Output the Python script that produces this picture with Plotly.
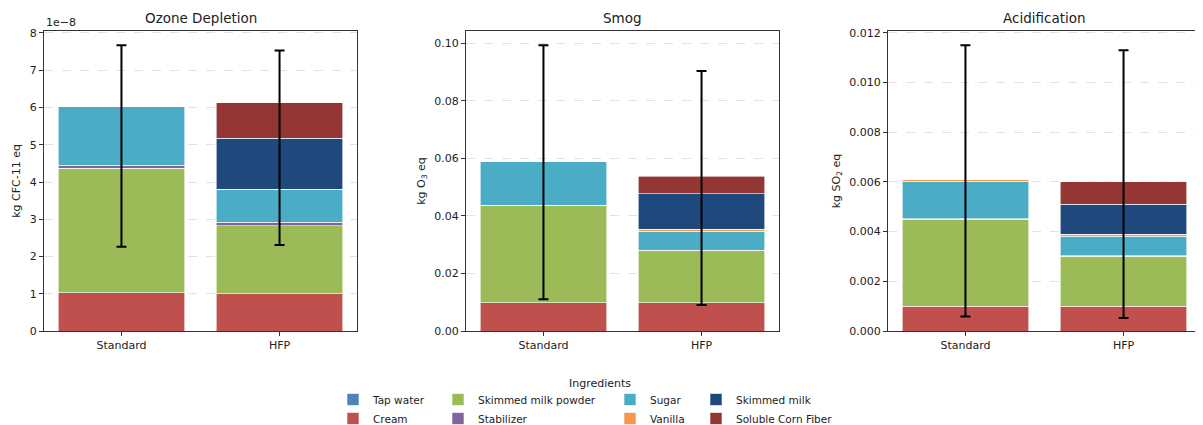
import plotly.graph_objects as go

# ---------------- data ----------------
categories = ["Standard", "HFP"]
ingredients = ["Tap water", "Cream", "Skimmed milk powder", "Stabilizer",
               "Sugar", "Vanilla", "Skimmed milk", "Soluble Corn Fiber"]
colors = ["#4F81BD", "#C0504D", "#9BBB59", "#8064A2",
          "#4BACC6", "#F79646", "#1F497D", "#943634"]

# Ozone depletion, in units of 1e-8 kg CFC-11 eq
ozone_standard = [0.0, 1.03, 3.34, 0.08, 1.58, 0.005, 0.0, 0.0]
ozone_hfp = [0.0, 1.00, 1.83, 0.09, 0.88, 0.01, 1.37, 0.95]
ozone_low = [2.26, 2.31]
ozone_high = [7.67, 7.53]

# Smog, kg O3 eq
smog_standard = [0.0, 0.0098, 0.0337, 0.0002, 0.0152, 0.0001, 0.0, 0.0]
smog_hfp = [0.0, 0.0099, 0.0180, 0.0002, 0.0066, 0.0006, 0.0124, 0.0060]
smog_low = [0.011, 0.009]
smog_high = [0.0993, 0.0904]

# Acidification, kg SO2 eq
acid_standard = [0.0, 0.0010, 0.0035, 0.00002, 0.0015, 0.00008, 0.0, 0.0]
acid_hfp = [0.0, 0.0010, 0.0020, 0.00002, 0.0008, 0.00008, 0.0012, 0.0009]
acid_low = [0.00058, 0.00052]
acid_high = [0.0115, 0.0113]

panels = [
    ("Ozone Depletion", "kg CFC-11 eq", ozone_standard, ozone_hfp, ozone_low, ozone_high, 1, "d"),
    ("Smog", "kg O<sub>3</sub> eq", smog_standard, smog_hfp, smog_low, smog_high, 0.02, ".2f"),
    ("Acidification", "kg SO<sub>2</sub> eq", acid_standard, acid_hfp, acid_low, acid_high, 0.002, ".3f"),
]

# page is offset by the default 8px body margin
OFF = 8
W, H = 1203 - OFF, 425 - OFF


def px(x):
    return (x - OFF) / W


def py(y):
    return 1 - (y - OFF) / H


x_domains = [(44, 357), (466, 779), (888, 1201)]
y_dom = [py(331), py(31)]

FONT = "DejaVu Sans"
TXT = "#222222"
fig = go.Figure()

legend_names = ["legend", "legend2", "legend3", "legend4"]

for p, (title, ytitle, std, hfp, low, high, dtick, fmt) in enumerate(panels):
    xa = "x" if p == 0 else f"x{p+1}"
    ya = "y" if p == 0 else f"y{p+1}"
    for i, name in enumerate(ingredients):
        fig.add_trace(go.Bar(
            x=categories, y=[std[i], hfp[i]], name=name,
            marker=dict(color=colors[i], line=dict(color="white", width=0.6)),
            xaxis=xa, yaxis=ya, showlegend=(p == 0),
            legend=legend_names[i // 2], legendgroup=name,
            hoverinfo="name+y",
        ))
    totals = [sum(std), sum(hfp)]
    fig.add_trace(go.Scatter(
        x=categories, y=totals, mode="markers",
        marker=dict(size=1, color="rgba(0,0,0,0)"),
        error_y=dict(type="data", symmetric=False,
                     array=[high[k] - totals[k] for k in range(2)],
                     arrayminus=[totals[k] - low[k] for k in range(2)],
                     color="black", thickness=2, width=5),
        xaxis=xa, yaxis=ya, showlegend=False, hoverinfo="skip",
    ))
    x0, x1 = x_domains[p]
    axis_common = dict(showline=True, mirror=True, linecolor="#333333", linewidth=1,
                       ticks="outside", ticklen=4, tickcolor="#333333", automargin=False,
                       tickfont=dict(family=FONT, size=11, color=TXT))
    xkey = "xaxis" if p == 0 else f"xaxis{p+1}"
    ykey = "yaxis" if p == 0 else f"yaxis{p+1}"
    fig.layout[xkey] = dict(domain=[px(x0), px(x1)], anchor=ya, range=[-0.49, 1.49],
                            showgrid=False, **axis_common)
    fig.layout[ykey] = dict(domain=y_dom, anchor=xa, range=[0, max(high) * 1.05],
                            dtick=dtick, tickformat=fmt, showgrid=True,
                            gridcolor="#e2e2e2", griddash="dash", gridwidth=0.8,
                            zeroline=False,
                            title=dict(text=ytitle, font=dict(family=FONT, size=11, color=TXT),
                                       standoff=6),
                            **axis_common)
    fig.add_annotation(text=title, xref=f"{xa} domain", yref="paper",
                       x=0.5, y=py(18), showarrow=False, yanchor="middle",
                       font=dict(family=FONT, size=13.5, color=TXT))

fig.add_annotation(text="1e\u22128", xref="x domain", yref="y domain", x=0.0, y=1.0,
                   xanchor="left", yanchor="bottom", showarrow=False, yshift=0,
                   font=dict(family=FONT, size=11, color=TXT))

fig.add_annotation(text="Ingredients", xref="paper", yref="paper", x=px(600), y=py(383),
                   showarrow=False, xanchor="center", yanchor="middle",
                   font=dict(family=FONT, size=11, color=TXT))

text_x = [373, 478, 650, 736]
legend_layout = {}
for k, ln in enumerate(legend_names):
    legend_layout[ln] = dict(x=px(text_x[k] - 40), y=py(385), xanchor="left", yanchor="top",
                             orientation="v", bgcolor="rgba(0,0,0,0)", tracegroupgap=0,
                             itemwidth=30,
                             font=dict(family=FONT, size=10.5, color=TXT))

fig.update_layout(
    width=W, height=H, barmode="stack", bargap=0.2,
    margin=dict(l=0, r=0, t=0, b=0, autoexpand=False),
    paper_bgcolor="white", plot_bgcolor="white",
    font=dict(family=FONT, size=11, color=TXT),
    **legend_layout,
)

fig.write_html("out.html")
